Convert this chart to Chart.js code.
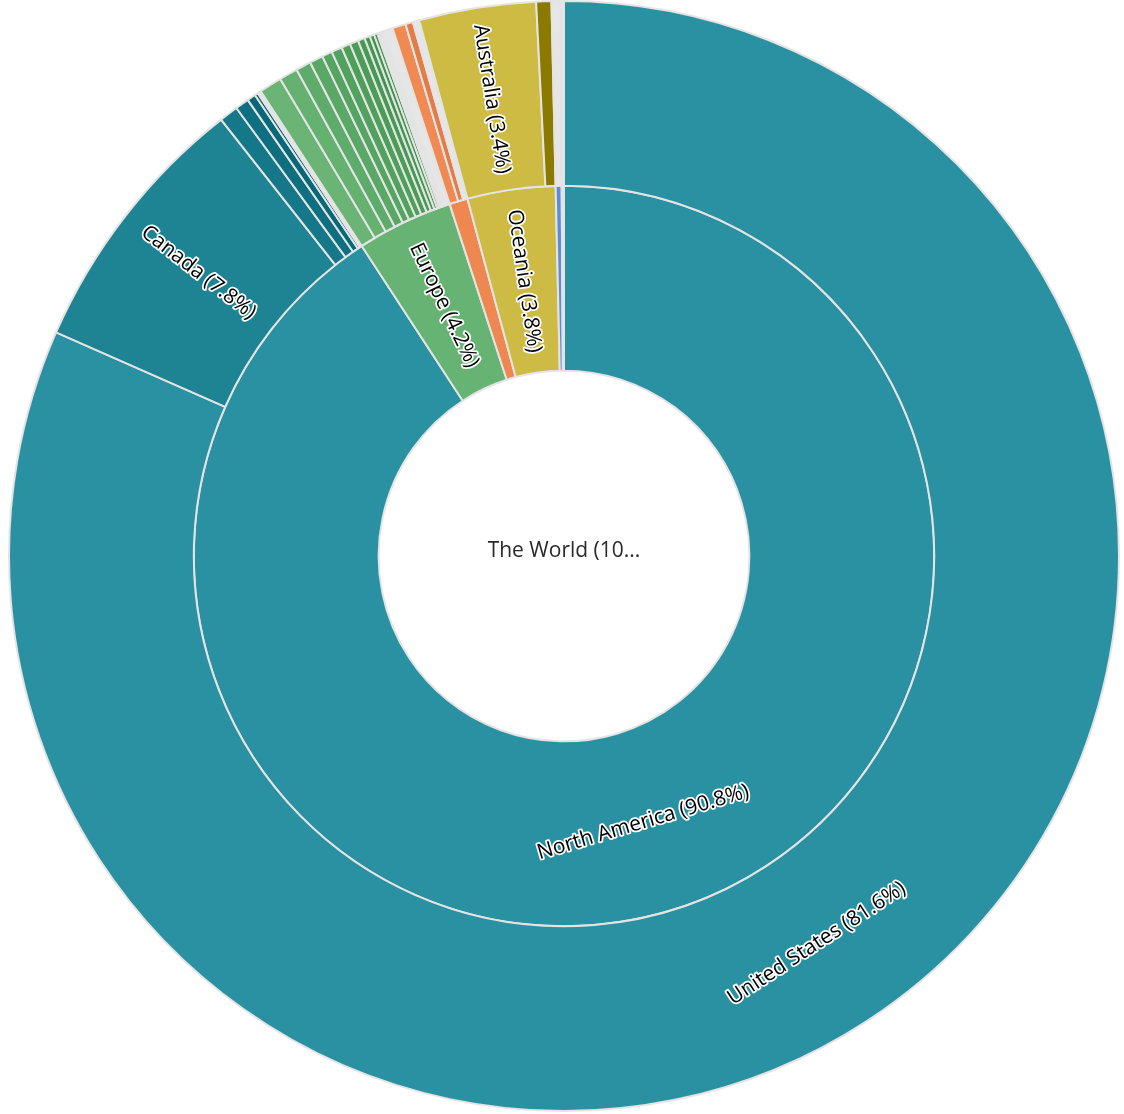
<!DOCTYPE html>
<html>
<head>
<meta charset="utf-8">
<title>The World</title>
<script src="https://cdn.jsdelivr.net/npm/chart.js@4/dist/chart.umd.min.js"></script>
<style>
  html, body { margin: 0; padding: 0; background: #fff; }
  #chart__box { width: 1124px; height: 1114px; position: relative; }
</style>
</head>
<body>
<div id="chart__box"><canvas id="myChartSun"></canvas></div>
<script>
// ========================= inner ring (continents)

const continents = ['North America', 'Europe', 'Asia', 'Oceania', 'South America', 'Other'];
const continentValues = [90.8, 4.2, 0.8, 3.84, 0.26, 0.1];
const continentColors = ['#2991a1', '#66b373', '#ef8751', '#cdbb45', '#5b8dd6', '#e6e6e6'];

// ========================= outer ring (countries)

const countries = [
  'United States', 'Canada', 'Mexico', 'Cuba', 'Jamaica', 'Panama', 'Costa Rica', 'Haiti',
  'United Kingdom', 'Germany', 'France', 'Netherlands', 'Italy', 'Spain', 'Sweden', 'Ireland',
  'Switzerland', 'Belgium', 'Poland', 'Norway', 'Denmark', 'Austria', 'Finland', 'Portugal', 'Greece',
  'Other Europe',
  'Japan', 'China', 'Other Asia',
  'Australia', 'New Zealand',
  'Other South America', 'Other'
];
const countryValues = [
  81.6, 7.8, 0.55, 0.4, 0.25, 0.1, 0.05, 0.05,
  0.66, 0.54, 0.44, 0.39, 0.30, 0.31, 0.26, 0.25,
  0.20, 0.16, 0.13, 0.10, 0.06, 0.04, 0.03, 0.02, 0.02,
  0.29,
  0.39, 0.22, 0.19,
  3.4, 0.44,
  0.26, 0.1
];
const countryColors = [
  '#2991a1', '#1e8393', '#157888', '#0d6f80', '#066879', '#0b6373', '#2e7f8d', '#5a9aa5',
  '#6ab576', '#64b170', '#5eac6b', '#59a866', '#55a562', '#51a25e', '#4d9f5a', '#4a9c57',
  '#479a54', '#449751', '#41944e', '#3e924b', '#3b8f48', '#5aa866', '#7fbf89', '#a6d3ad', '#c9e4cd',
  '#e6e6e6',
  '#f08a52', '#e67c45', '#e6e6e6',
  '#cdbb43', '#8b7900',
  '#e6e6e6', '#e6e6e6'
];

const rootLabel = 'The World (10...';
const minLabelValue = 3;   // smaller slices get no label
const tangentValue = 20;   // big slices get text along the arc

// ========================= labels plugin

const sunLabels = {
  id: 'sunLabels',
  afterDatasetsDraw(chart) {
    const ctx = chart.ctx;
    ctx.save();
    ctx.font = '21px "Open Sans"';
    ctx.textAlign = 'center';
    ctx.textBaseline = 'middle';

    chart.data.datasets.forEach(function(ds, di) {
      const meta = chart.getDatasetMeta(di);
      meta.data.forEach(function(arc, i) {
        const v = ds.data[i];
        if (v < minLabelValue) return;
        const a = (arc.startAngle + arc.endAngle) / 2;
        const r = (arc.innerRadius + arc.outerRadius) / 2;
        const x = arc.x + Math.cos(a) * r;
        const y = arc.y + Math.sin(a) * r;
        let rot;
        if (v > tangentValue) {
          rot = Math.sin(a) > 0 ? a - Math.PI / 2 : a + Math.PI / 2;
        } else {
          rot = Math.cos(a) < 0 ? a + Math.PI : a;
        }
        const text = ds.names[i] + ' (' + v.toFixed(1) + '%)';
        ctx.save();
        ctx.translate(x, y);
        ctx.rotate(rot);
        ctx.lineJoin = 'round';
        ctx.lineWidth = 3.5;
        ctx.strokeStyle = '#ffffff';
        ctx.strokeText(text, 0, 0);
        ctx.fillStyle = '#000000';
        ctx.fillText(text, 0, 0);
        ctx.restore();
      });
    });

    // root in the middle
    const arc0 = chart.getDatasetMeta(1).data[0];
    ctx.fillStyle = '#2a2a2a';
    ctx.fillText(rootLabel, arc0.x, arc0.y - 5);
    ctx.restore();
  }
};

// ========================= chart

const dataSun = {
  labels: countries,
  datasets: [{
    data: countryValues,
    names: countries,
    backgroundColor: countryColors,
    borderColor: '#e4e4e4',
    borderWidth: 2
  }, {
    data: continentValues,
    names: continents,
    backgroundColor: continentColors,
    borderColor: '#e4e4e4',
    borderWidth: 2
  }]
};

const configSun = {
  type: 'doughnut',
  data: dataSun,
  options: {
    responsive: true,
    maintainAspectRatio: false,
    animation: false,
    cutout: '33.4%',
    layout: {
      padding: { left: 8, right: 4, top: 0, bottom: 2 }
    },
    plugins: {
      legend: { display: false },
      tooltip: { enabled: false }
    }
  },
  plugins: [sunLabels]
};

const myChartSun = new Chart(
  document.getElementById('myChartSun'),
  configSun
);
</script>
</body>
</html>
